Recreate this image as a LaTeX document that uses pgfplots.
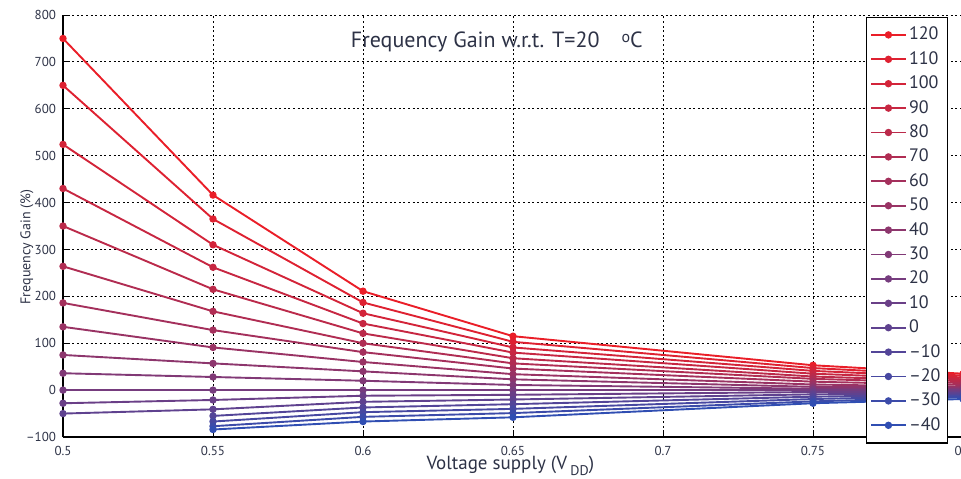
\documentclass[border=0pt]{standalone}
\usepackage{fontspec}
\setmainfont{PT Sans}
\usepackage{xcolor}
\usepackage{pgfplots}
\usepackage{pgfplotstable}
\pgfplotsset{compat=1.18}

\definecolor{cRed}{RGB}{234,30,40}
\definecolor{cBlue}{RGB}{48,78,178}
\definecolor{txt}{RGB}{45,50,70}

% gain (%) w.r.t. T=20, one column per temperature
\pgfplotstableread{
x    T120 T110 T100 T90 T80 T70 T60 T50 T40 T30 T20 T10 T0  Tm10 Tm20 Tm30 Tm40
0.50 750  650  524  430 350 264 186 135 75  36  0   -28 -50 nan  nan  nan  nan
0.55 416  365  310  262 215 168 128 91  57  28  0   -21 -41 -55  -67  -77  -84
0.60 211  187  164  142 121 100 81  60  40  20  0   -12 -25 -37  -47  -57  -67
0.65 115  103  91   80  68  57  46  34  23  11  0   -10 -20 -30  -40  -49  -58
0.75 53   47   41   35  29  24  18  12  7   3   0   -4  -9  -14  -19  -24  -28
0.80 35   31   27   23  19  15  11  7   5   2   0   -3  -6  -9   -12  -15  -19
}\gain

\begin{document}
\begin{tikzpicture}
\begin{axis}[
  width=450pt, height=211pt, scale only axis,
  xmin=0.5, xmax=0.8, ymin=-100, ymax=800,
  axis x line*=bottom, axis y line*=left,
  axis line style={black, line width=0.6pt},
  tick align=inside, major tick length=3pt,
  tick style={black, line width=0.5pt},
  xtick={0.5,0.55,0.6,0.65,0.7,0.75,0.8},
  xticklabels={0.5,0.55,0.6,0.65,0.7,0.75,0.8},
  ytick={-100,0,...,800},
  yticklabels={--100,0,100,200,300,400,500,600,700,800},
  tick label style={font=\fontsize{6.5}{7}\selectfont, color=txt},
  xticklabel style={yshift=-1pt},
  grid=major,
  grid style={black, line width=0.45pt, dash pattern=on 1pt off 1.3pt},
  xlabel={Voltage supply (V\,\raisebox{-0.55ex}{\fontsize{7}{8}\selectfont DD})},
  xlabel style={at={(axis description cs:0.497,-0.068)}, anchor=center, font=\fontsize{9.5}{11}\selectfont, color=txt},
  ylabel={Frequency Gain (\%)},
  ylabel style={at={(axis description cs:-0.04,0.45)}, anchor=center, font=\fontsize{7}{8}\selectfont, color=txt},
  legend cell align=left,
  legend style={at={(rel axis cs:0.892,0.996)}, anchor=north west,
    draw=black, line width=0.6pt, fill=white,
    font=\fontsize{9}{10}\selectfont, text=txt,
    row sep=0.6pt, inner xsep=2pt, inner ysep=3pt,
    nodes={text height=7pt, text depth=2pt, inner sep=1.3pt}},
  every axis plot/.append style={line width=0.95pt, mark=*, mark size=1.35pt},
]
\addplot[color=cRed!100!cBlue] table[y=T120]{\gain}; \addlegendentry{120}
\addplot[color=cRed!93.75!cBlue] table[y=T110]{\gain}; \addlegendentry{110}
\addplot[color=cRed!87.5!cBlue] table[y=T100]{\gain}; \addlegendentry{100}
\addplot[color=cRed!81.25!cBlue] table[y=T90]{\gain}; \addlegendentry{90}
\addplot[color=cRed!75!cBlue] table[y=T80]{\gain}; \addlegendentry{80}
\addplot[color=cRed!68.75!cBlue] table[y=T70]{\gain}; \addlegendentry{70}
\addplot[color=cRed!62.5!cBlue] table[y=T60]{\gain}; \addlegendentry{60}
\addplot[color=cRed!56.25!cBlue] table[y=T50]{\gain}; \addlegendentry{50}
\addplot[color=cRed!50!cBlue] table[y=T40]{\gain}; \addlegendentry{40}
\addplot[color=cRed!43.75!cBlue] table[y=T30]{\gain}; \addlegendentry{30}
\addplot[color=cRed!37.5!cBlue] table[y=T20]{\gain}; \addlegendentry{20}
\addplot[color=cRed!31.25!cBlue] table[y=T10]{\gain}; \addlegendentry{10}
\addplot[color=cRed!25!cBlue] table[y=T0]{\gain}; \addlegendentry{0}
\addplot[color=cRed!18.75!cBlue] table[y=Tm10]{\gain}; \addlegendentry{--10}
\addplot[color=cRed!12.5!cBlue] table[y=Tm20]{\gain}; \addlegendentry{--20}
\addplot[color=cRed!6.25!cBlue] table[y=Tm30]{\gain}; \addlegendentry{--30}
\addplot[color=cRed!0!cBlue] table[y=Tm40]{\gain}; \addlegendentry{--40}
\node[font=\fontsize{11}{13}\selectfont, color=txt] at (rel axis cs:0.482,0.936)
  {Frequency Gain w.r.t. T=20\quad\raisebox{0.45ex}{\fontsize{8}{9}\selectfont o}C};
\end{axis}
\pgfresetboundingbox
\useasboundingbox (-31.5pt,-20.5pt) rectangle (449pt,218.5pt);
\end{tikzpicture}
\end{document}
